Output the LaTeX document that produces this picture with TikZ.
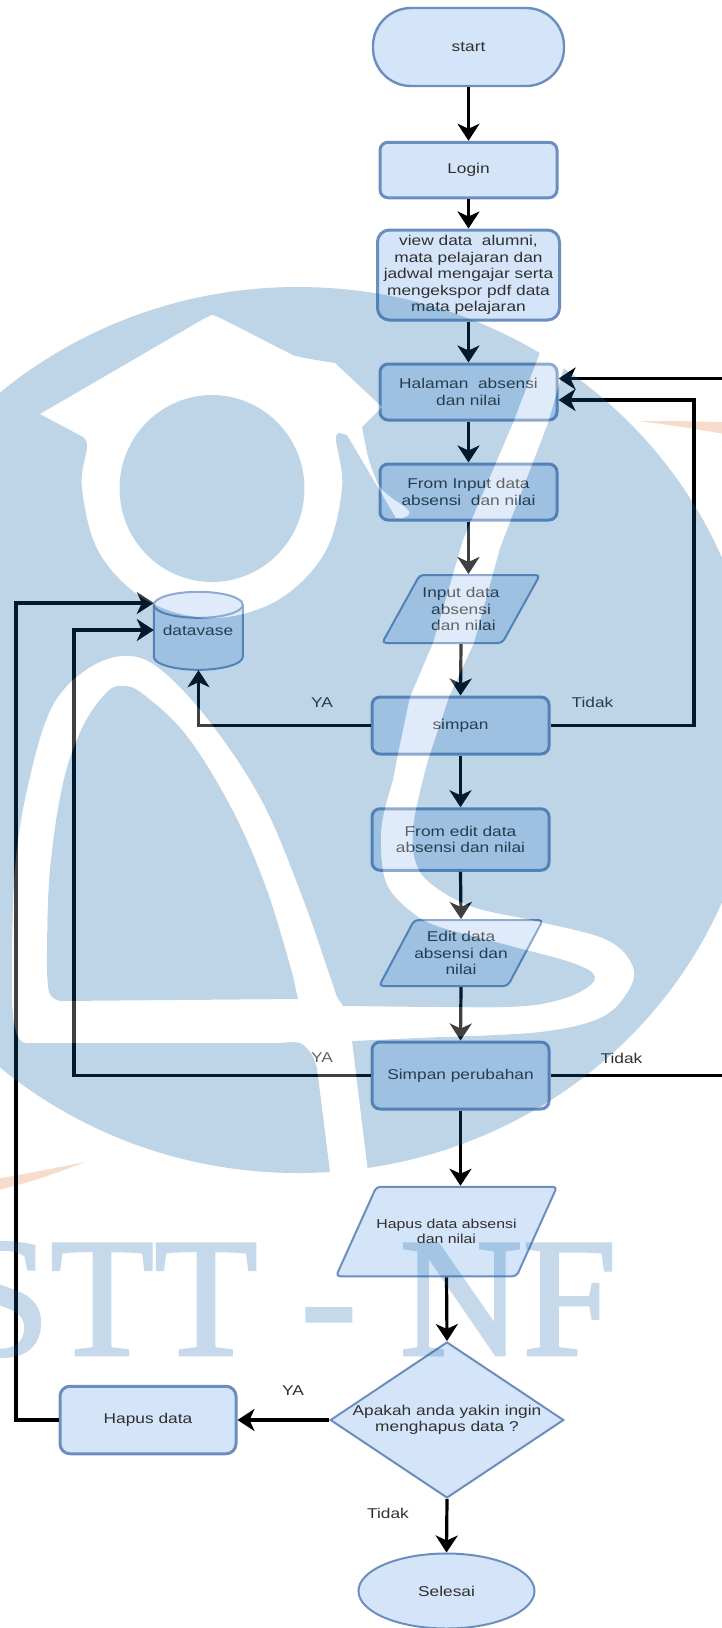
\documentclass[tikz,border=0pt]{standalone}
\usepackage{fontspec}
\setmainfont[FakeStretch=1.22]{Liberation Sans}
\newfontfamily\wmfont[FakeBold=1.6]{Liberation Serif}
\usetikzlibrary{arrows.meta,shapes.geometric}
\definecolor{shfill}{HTML}{D5E5F9}
\definecolor{shline}{HTML}{6C8EBF}
\definecolor{wmblue}{rgb}{0.05,0.38,0.65}
\definecolor{swoosh}{HTML}{F8DCCB}
\definecolor{ink}{HTML}{303030}
\newcommand{\wmholes}{
  (552,320) -- (541,350) -- (513,423) -- (463,540) -- (433,643) -- (410,697) -- (398,754)
  -- plot[smooth,tension=.6] coordinates {(393,780) (382,823) (382,863) (390,890) (413,913) (440,927) (507,945) (573,963) (595,977) (580,992) (547,1003) (507,1007) (440,1007) (343,1006)}
  -- (337,997)
  -- plot[smooth,tension=.6] coordinates {(313,926) (267,811) (213,726) (160,669) (123,656) (83,672) (50,711) (27,790) (15,868) (12,960) (13,1015) (20,1040) (33,1043)}
  -- plot[smooth,tension=.6] coordinates {(280,1043) (300,1043) (312,1055) (317,1068)}
  -- (330,1172) -- (333,1195) -- (371,1195) -- (368,1172) -- (352,1041)
  -- plot[smooth,tension=.6] coordinates {(440,1037) (540,1032) (600,1018) (627,993) (633,967) (607,940) (540,922) (473,907) (430,883) (415,860) (413,830) (418,800) (428,760)}
  -- (449,697) -- (474,643) -- (500,548) -- (548,423) -- (564,367) -- (577,320) -- cycle
  (298,999) -- plot[smooth,tension=.6] coordinates {(293,976) (267,890) (233,811) (187,736) (143,694) (123,686) (107,692) (83,726) (63,783) (50,869) (47,950) (48,986) (52,997) (60,1001)} -- cycle
  (40,414) -- (205,318)
  -- plot[smooth,tension=.6] coordinates {(210,316) (220,318) (283,350) (300,357) (335,363)}
  -- (382,407) -- (362,427)
  -- plot[smooth,tension=.6] coordinates {(367,453) (380,487) (406,508) (409,514) (403,518) (396,518)}
  -- (347,435)
  -- plot[smooth,tension=.6] coordinates {(340,433) (336,440) (342,488) (324.6,553) (277,600.6) (212,618) (147,600.6) (99.4,553) (82,488) (87,447) (83,437)}
  -- cycle
  (212,488.5) ellipse [x radius=92.5pt, y radius=93.5pt]
}
\tikzset{
  every node/.style={font=\fontsize{14.2}{16.5}\selectfont, text=ink, align=center},
  base/.style={fill=shfill, draw=shline, inner sep=0pt},
  procbox/.style={base, rectangle, rounded corners=8pt, line width=3pt},
  iobox/.style={base, trapezium, trapezium left angle=51, trapezium right angle=129,
    trapezium stretches=true, rounded corners=4pt, line width=2pt},
  flow/.style={line width=3.2pt, draw=black, -{Stealth[length=17pt,width=22pt,inset=5pt]}},
  lab/.style={inner sep=0pt},
}
\begin{document}
\begin{tikzpicture}[x=1pt,y=-1pt]
\useasboundingbox (0,0) rectangle (722,1628);
% faint orange swooshes of the background
\fill[swoosh] (638,421) .. controls (670,421) and (700,421) .. (740,423) -- (740,437) .. controls (710,431) and (670,425) .. (638,421) -- cycle;
\fill[swoosh] (85,1162) .. controls (55,1168) and (25,1174) .. (-10,1180) -- (-10,1192) .. controls (25,1184) and (55,1174) .. (85,1162) -- cycle;

% nodes
\node[procbox, rounded corners=38pt, line width=2.4pt, minimum width=191pt, minimum height=78pt] (start) at (468.5,47) {start};
\node[procbox, minimum width=177pt, minimum height=55.5pt] (login) at (468.5,170) {Login};
\node[procbox, rounded corners=12pt, minimum width=182pt, minimum height=90pt] (view) at (468.5,275) {view data\ \ alumni,\\mata pelajaran dan\\jadwal mengajar serta\\mengekspor pdf data\\mata pelajaran};
\node[procbox, minimum width=177pt, minimum height=56pt] (halaman) at (468.5,392) {Halaman\ \ absensi\\dan nilai};
\node[procbox, minimum width=177pt, minimum height=56pt] (finput) at (468.5,492) {From Input data\\absensi\ \ dan nilai};
\node[iobox, minimum width=158pt, minimum height=68pt] (input) at (461,609) {Input data\\absensi\\\ dan nilai};
\node[procbox, minimum width=177pt, minimum height=57pt] (simpan) at (460.5,725.5) {simpan};
\node[procbox, minimum width=177pt, minimum height=61.5pt] (fedit) at (460.5,839.5) {From edit data\\absensi dan nilai};
\node[iobox, minimum width=155pt, minimum height=66pt] (edit) at (461,953) {Edit data\\absensi dan\\nilai};
\node[procbox, minimum width=177pt, minimum height=67pt] (sperubahan) at (460.5,1075.5) {Simpan perubahan};
\node[iobox, trapezium left angle=31, trapezium right angle=149, font=\fontsize{13}{14.7}\selectfont, minimum width=212pt, minimum height=89.5pt] (hapus) at (446.5,1231.5) {Hapus data absensi\\dan nilai};
\node[base, diamond, line width=2pt, minimum width=233.5pt, minimum height=156pt, aspect=1.5,
  label={[font=\fontsize{14.2}{16.5}\selectfont, align=center, text=ink]center:Apakah anda yakin ingin\\menghapus data ?}] (tanya) at (447,1420) {};
\node[procbox, rounded corners=10pt, minimum width=176pt, minimum height=67.5pt] (hdata) at (148,1420) {Hapus data};
\node[base, ellipse, line width=2pt, minimum width=176pt, minimum height=75pt] (selesai) at (446.5,1591) {Selesai};

% cylinder
\node[inner sep=0pt, minimum width=89pt, minimum height=78pt] (db) at (198.5,631) {};
\draw[fill=shfill, draw=shline, line width=2pt]
  (db.north west) ++(0,13) -- ++(0,52) arc[start angle=180,end angle=360,x radius=44.5pt,y radius=13pt] -- ++(0,-52)
  arc[start angle=0,end angle=180,x radius=44.5pt,y radius=13pt] -- cycle;
\draw[draw=shline, line width=2pt] (db.north west) ++(0,13) arc[start angle=180,end angle=360,x radius=44.5pt,y radius=13pt];
\node at (198,630) (dbtext) {datavase};

% connectors
\draw[flow] (start) -- (login);
\draw[flow] (login) -- (view);
\draw[flow] (view) -- (halaman);
\draw[flow] (halaman) -- (finput);
\draw[flow] (finput.south) -- (finput.south |- input.north);
\draw[flow] (input.south) -- (simpan.north);
\draw[flow] (simpan) -- (fedit);
\draw[flow] (fedit.south) -- (edit.north);
\draw[flow] (edit.south) -- (sperubahan.north);
\draw[flow] (sperubahan.south) -- (sperubahan.south |- hapus.north);
\draw[flow] (hapus.south) -- (tanya.north);
\draw[flow] (tanya.south) -- (selesai.north);
\draw[flow] (tanya.west) -- (hdata.east);
\draw[flow] (simpan.west) -| (db.south);
\draw[flow] (simpan.east) -- (694,725.5) |- ([yshift=-8pt]halaman.east);
\draw[flow] (sperubahan.east) -- (745,1075.5) |- ([yshift=13.5pt]halaman.east);
\draw[flow] (sperubahan.west) -- (74,1075.5) |- ([yshift=1pt]db.west);
\draw[flow] (hdata.west) -- (16,1420) |- ([yshift=28pt]db.west);

% labels
\node[lab] (ya1) at (322,702.5) {YA};
\node[lab] (ti1) at (592.5,702.5) {Tidak};
\node[lab] (ya2) at (322,1058) {YA};
\node[lab] (ti2) at (621.5,1058) {Tidak};
\node[lab] (ya3) at (293,1391) {YA};
\node[lab] (ti3) at (388,1513.5) {Tidak};

% translucent watermark on top of everything
\begin{scope}[transparency group, opacity=.24]
\node[anchor=base west, inner sep=0pt, font=\wmfont\fontsize{170}{170}\selectfont, text=wmblue] (wm) at (-44.5,1355) {STT - NF};
\end{scope}
\begin{scope}
  \clip (298,730) ellipse [x radius=460pt, y radius=443pt];
  \fill[wmblue, opacity=.27, even odd rule] (-200,200) rectangle (900,1300) \wmholes;
  \fill[white, opacity=.25, even odd rule] \wmholes;
\end{scope}
\end{tikzpicture}
\end{document}
